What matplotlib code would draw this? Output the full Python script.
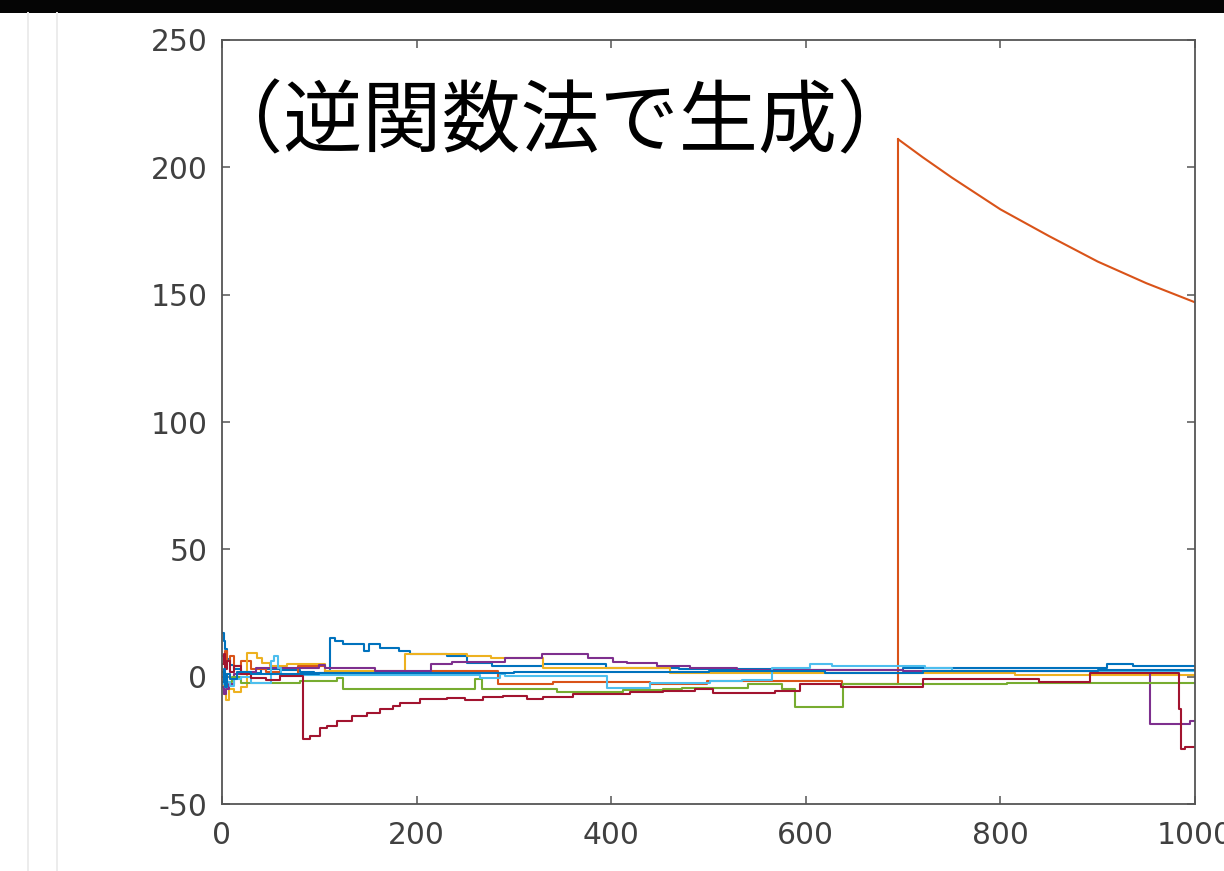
import matplotlib

matplotlib.use("Agg")
import matplotlib.pyplot as plt
from matplotlib.lines import Line2D
from matplotlib.patches import Rectangle

plt.rcParams["axes.unicode_minus"] = False

W, H = 1224, 871

# Running means of Cauchy samples, kept as step breakpoints:
# each value holds from its x until the next x.
blue_x = [1, 2, 3, 5, 8, 12, 20, 40, 60, 80, 95, 111, 116, 124, 146, 151, 162,
          182, 193, 231, 252, 278, 330, 395, 470, 600, 700, 910, 936, 1000]
blue_y = [17, 14, 11, 7, 4.5, 3, 1.5, 3, 2.5, 2, 1.6, 15.3, 14.1, 12.9, 10.2,
          12.9, 11.4, 10.2, 9, 8.2, 5.5, 4.3, 4.8, 3.5, 3.1, 2.8, 3.3, 5.1, 4.3, 4.3]

blue2_x = [1, 2, 3, 5, 8, 15, 30, 100, 300, 500, 620, 720, 900, 1000]
blue2_y = [-2, 3, -4, 1, -1, 2, 1, 1.6, 2.0, 2.4, 1.6, 2.2, 2.6, 2.6]

orange_x = [1, 2, 3, 5, 8, 12, 20, 30, 45, 60, 78, 106, 214, 284, 340, 440,
            498, 637, 695]
orange_y = [8, 5, 10, 6, 8, 4, 6, 3, 2, 0.5, 4, 1.6, 2.2, -2.7, -2.2, -2.8,
            -1.6, -2.8, 211]
# after the huge sample at n=695 the mean decays smoothly
orange_tail_x = [695, 720, 750, 800, 850, 900, 950, 1000]
orange_tail_y = [211, 204, 196, 183.5, 173, 163, 154.5, 147]

yellow_x = [1, 2, 4, 7, 12, 20, 26, 36, 41, 49, 67, 106, 188, 252, 276, 330,
            460, 815, 1000]
yellow_y = [-3, -7, -9, -5, -6, -4, 9.4, 7.5, 5.5, 4.3, 5.1, 2.4, 9, 8.2, 7.5,
            3.5, 1.6, 0.6, 0.6]

purple_x = [1, 2, 4, 7, 12, 20, 35, 100, 106, 157, 215, 236, 291, 329, 376,
            402, 416, 447, 481, 529, 700, 800, 954, 995, 1000]
purple_y = [-4, -7, -5, -3, 1, 2, 3.5, 4.5, 3.5, 2.4, 5.1, 5.9, 7.5, 9, 7.5,
            5.9, 5.5, 4.3, 3.5, 2.7, 2.4, 2.2, -18.5, -17.3, -17.3]

green_x = [1, 2, 3, 5, 10, 20, 80, 118, 124, 260, 267, 344, 412, 453, 473,
           541, 576, 589, 638, 807, 1000]
green_y = [2, -1, 1, -2, 0, -2.3, -1.6, -0.4, -4.7, -0.8, -4.7, -6.2, -5.1,
           -4.7, -4.3, -2.7, -4.7, -11.8, -2.7, -2.3, -2.3]

cyan_x = [1, 2, 3, 5, 8, 12, 20, 30, 50, 53, 58, 61, 265, 286, 291, 396, 440,
          502, 534, 565, 604, 627, 722, 750, 1000]
cyan_y = [-3, -1, -4, -2, -3.5, -1, 0, -2.5, 6, 8.2, 3.5, 0.8, -0.4, 1.2, 0.4,
          -4.3, -2.4, -1.6, -1.2, 3.5, 5.1, 4.3, 3.5, 2.4, 2.4]

red_x = [1, 2, 3, 5, 8, 12, 20, 30, 45, 60, 83, 90, 101, 108, 118, 134, 149,
         162, 176, 183, 204, 231, 250, 268, 289, 313, 330, 361, 419, 453, 486,
         505, 568, 594, 636, 720, 840, 892, 984, 986, 990, 1000]
red_y = [5, 9, 3, 6, 2, 4, 1, -0.5, -1.2, 0.4, -24.3, -23.2, -20.0, -19.2,
         -17.3, -15.3, -14.1, -12.6, -11.4, -10.2, -8.6, -8.2, -9.1, -8.1, -7.5,
         -8.7, -7.9, -6.7, -6.2, -5.5, -4.7, -6.5, -5.5, -2.9, -3.9, -0.9, -1.9,
         1.6, -12.6, -28.3, -27.6, -27.6]

x_ticks = [0, 200, 400, 600, 800, 1000]
y_ticks = [-50, 0, 50, 100, 150, 200, 250]
title_text = "（逆関数法で生成）"

c_blue = "#0072BD"
c_orange = "#D95319"
c_yellow = "#EDB120"
c_purple = "#7E2F8E"
c_green = "#77AC30"
c_cyan = "#4DBEEE"
c_red = "#A2142F"

fig = plt.figure(figsize=(W / 100, H / 100), dpi=100)
fig.patch.set_facecolor("white")

# dark strip along the top edge and faint guide lines on the left
fig.add_artist(Rectangle((0, 1 - 13 / H), 1, 13 / H, transform=fig.transFigure,
                         facecolor="#050505", edgecolor="none"))
for gx in (28, 57):
    fig.add_artist(Line2D([gx / W, gx / W], [0, 1 - 13 / H], transform=fig.transFigure,
                          color="#ececec", linewidth=1.4))

ax = fig.add_axes([222 / W, (H - 804) / H, (1195 - 222) / W, (804 - 40) / H])

lw = 1.5
series = [
    (blue_x, blue_y, c_blue),
    (orange_x, orange_y, c_orange),
    (yellow_x, yellow_y, c_yellow),
    (purple_x, purple_y, c_purple),
    (green_x, green_y, c_green),
    (cyan_x, cyan_y, c_cyan),
    (red_x, red_y, c_red),
    (blue2_x, blue2_y, c_blue),
]
for xs, ys, col in series:
    ax.plot(xs, ys, color=col, linewidth=lw, drawstyle="steps-post")
ax.plot(orange_tail_x, orange_tail_y, color=c_orange, linewidth=lw)

ax.set_xlim(0, 1000)
ax.set_ylim(-50, 250)
ax.set_xticks(x_ticks)
ax.set_yticks(y_ticks)

spine_color = "#555555"
for spine in ax.spines.values():
    spine.set_color(spine_color)
    spine.set_linewidth(1.3)

ax.tick_params(axis="both", direction="in", length=5.8, width=1.1,
               color=spine_color, labelcolor="#404040", labelsize=21.4,
               top=True, right=True)
ax.tick_params(axis="y", pad=10.5)
ax.tick_params(axis="x", pad=12)

fig.text(204 / W, 1 - 124 / H, title_text, fontsize=57, color="black",
         family=["Noto Sans CJK JP", "DejaVu Sans"], ha="left", va="center")

fig.savefig("out.png", dpi=100)
